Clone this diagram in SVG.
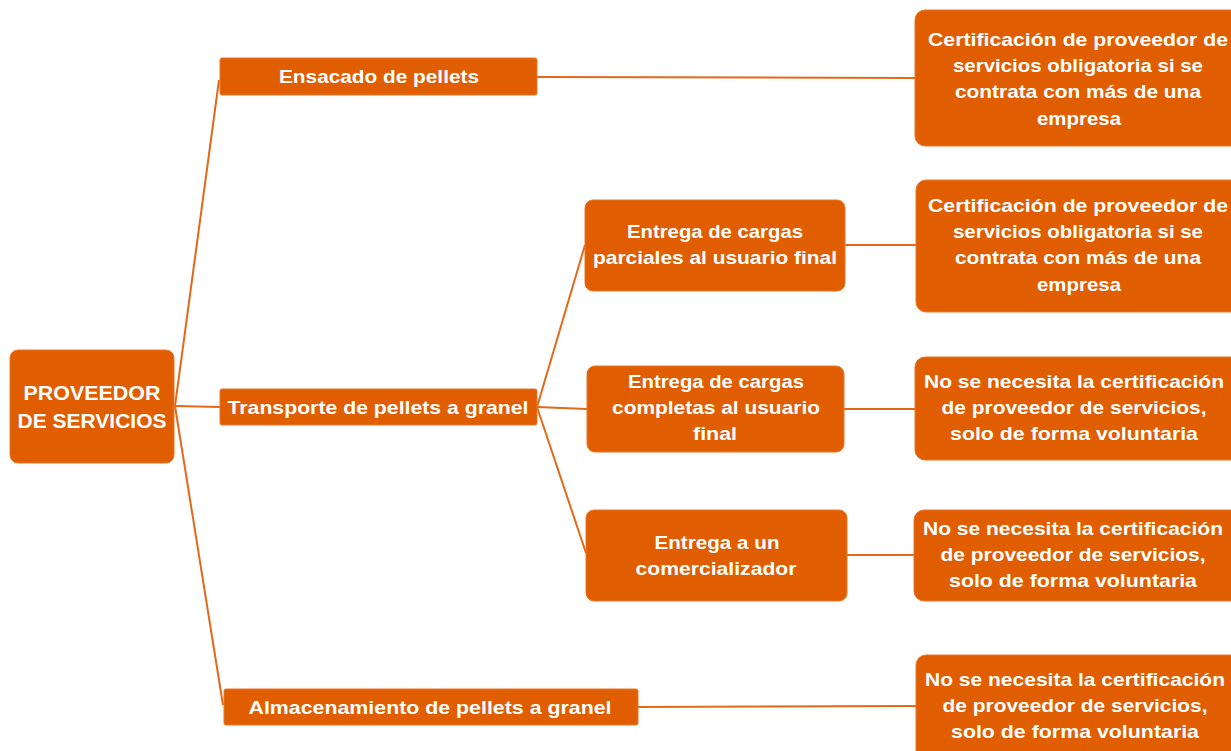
<svg xmlns="http://www.w3.org/2000/svg" width="1231" height="751" viewBox="0 0 1231 751">
<style>
.box{fill:#E05E00;stroke:#E8772A;stroke-width:1}
.t{font-family:"Liberation Sans",Arial,sans-serif;font-weight:bold;font-size:19px;fill:#FFFFFF;text-anchor:middle}
.big{font-size:21px}
.c{stroke:#E2691A;stroke-width:2;fill:none}
</style>
<rect width="1231" height="751" fill="#FFFFFF"/>
<g id="connectors">
<line class="c" x1="175" y1="406" x2="219" y2="80"/>
<line class="c" x1="175" y1="406" x2="220" y2="407"/>
<line class="c" x1="175" y1="406" x2="223" y2="705"/>
<line class="c" x1="537" y1="77" x2="915" y2="78"/>
<line class="c" x1="537" y1="407" x2="585" y2="245"/>
<line class="c" x1="537" y1="407" x2="587" y2="409"/>
<line class="c" x1="537" y1="407" x2="586" y2="553"/>
<line class="c" x1="845" y1="245" x2="916" y2="245"/>
<line class="c" x1="844" y1="409" x2="915" y2="409"/>
<line class="c" x1="847" y1="555" x2="914" y2="555"/>
<line class="c" x1="638" y1="707" x2="916" y2="706"/>
</g>
<g id="root">
<rect class="box" x="10" y="350" width="164" height="113" rx="8"/>
<text class="t big" x="92" y="400" textLength="137" lengthAdjust="spacingAndGlyphs">PROVEEDOR</text>
<text class="t big" x="92" y="428" textLength="149" lengthAdjust="spacingAndGlyphs">DE SERVICIOS</text>
</g>
<g id="ensacado">
<rect class="box" x="220" y="58" width="317" height="37" rx="2"/>
<text class="t" x="379" y="83" textLength="200" lengthAdjust="spacingAndGlyphs">Ensacado de pellets</text>
</g>
<g id="transporte">
<rect class="box" x="220" y="389" width="317" height="36" rx="2"/>
<text class="t" x="378" y="414" textLength="301" lengthAdjust="spacingAndGlyphs">Transporte de pellets a granel</text>
</g>
<g id="almacenamiento">
<rect class="box" x="224" y="689" width="414" height="36" rx="2"/>
<text class="t" x="430" y="714" textLength="363" lengthAdjust="spacingAndGlyphs">Almacenamiento de pellets a granel</text>
</g>
<g id="parciales">
<rect class="box" x="585" y="200" width="260" height="91" rx="8"/>
<text class="t" x="715" y="238" textLength="176" lengthAdjust="spacingAndGlyphs">Entrega de cargas</text>
<text class="t" x="715" y="264" textLength="244" lengthAdjust="spacingAndGlyphs">parciales al usuario final</text>
</g>
<g id="completas">
<rect class="box" x="587" y="366" width="257" height="86" rx="8"/>
<text class="t" x="716" y="388" textLength="176" lengthAdjust="spacingAndGlyphs">Entrega de cargas</text>
<text class="t" x="716" y="414" textLength="208" lengthAdjust="spacingAndGlyphs">completas al usuario</text>
<text class="t" x="715" y="440" textLength="44" lengthAdjust="spacingAndGlyphs">final</text>
</g>
<g id="comercializador">
<rect class="box" x="586" y="510" width="261" height="91" rx="8"/>
<text class="t" x="717" y="549" textLength="125" lengthAdjust="spacingAndGlyphs">Entrega a un</text>
<text class="t" x="716" y="575" textLength="161" lengthAdjust="spacingAndGlyphs">comercializador</text>
</g>
<g id="cert1">
<rect class="box" x="915" y="10" width="330" height="136" rx="10"/>
<text class="t" x="1078" y="46" textLength="300" lengthAdjust="spacingAndGlyphs">Certificación de proveedor de</text>
<text class="t" x="1078" y="72" textLength="250" lengthAdjust="spacingAndGlyphs">servicios obligatoria si se</text>
<text class="t" x="1078" y="98" textLength="246" lengthAdjust="spacingAndGlyphs">contrata con más de una</text>
<text class="t" x="1079" y="125" textLength="84" lengthAdjust="spacingAndGlyphs">empresa</text>
</g>
<g id="cert2">
<rect class="box" x="916" y="180" width="330" height="132" rx="10"/>
<text class="t" x="1078" y="212" textLength="300" lengthAdjust="spacingAndGlyphs">Certificación de proveedor de</text>
<text class="t" x="1078" y="238" textLength="250" lengthAdjust="spacingAndGlyphs">servicios obligatoria si se</text>
<text class="t" x="1078" y="264" textLength="246" lengthAdjust="spacingAndGlyphs">contrata con más de una</text>
<text class="t" x="1079" y="291" textLength="84" lengthAdjust="spacingAndGlyphs">empresa</text>
</g>
<g id="nocert1">
<rect class="box" x="915" y="357" width="330" height="103" rx="10"/>
<text class="t" x="1074" y="388" textLength="300" lengthAdjust="spacingAndGlyphs">No se necesita la certificación</text>
<text class="t" x="1074" y="414" textLength="265" lengthAdjust="spacingAndGlyphs">de proveedor de servicios,</text>
<text class="t" x="1074" y="440" textLength="248" lengthAdjust="spacingAndGlyphs">solo de forma voluntaria</text>
</g>
<g id="nocert2">
<rect class="box" x="914" y="510" width="330" height="91" rx="10"/>
<text class="t" x="1073" y="535" textLength="300" lengthAdjust="spacingAndGlyphs">No se necesita la certificación</text>
<text class="t" x="1073" y="561" textLength="265" lengthAdjust="spacingAndGlyphs">de proveedor de servicios,</text>
<text class="t" x="1073" y="587" textLength="248" lengthAdjust="spacingAndGlyphs">solo de forma voluntaria</text>
</g>
<g id="nocert3">
<rect class="box" x="916" y="655" width="330" height="110" rx="10"/>
<text class="t" x="1075" y="686" textLength="300" lengthAdjust="spacingAndGlyphs">No se necesita la certificación</text>
<text class="t" x="1075" y="712" textLength="265" lengthAdjust="spacingAndGlyphs">de proveedor de servicios,</text>
<text class="t" x="1075" y="738" textLength="248" lengthAdjust="spacingAndGlyphs">solo de forma voluntaria</text>
</g>
</svg>
